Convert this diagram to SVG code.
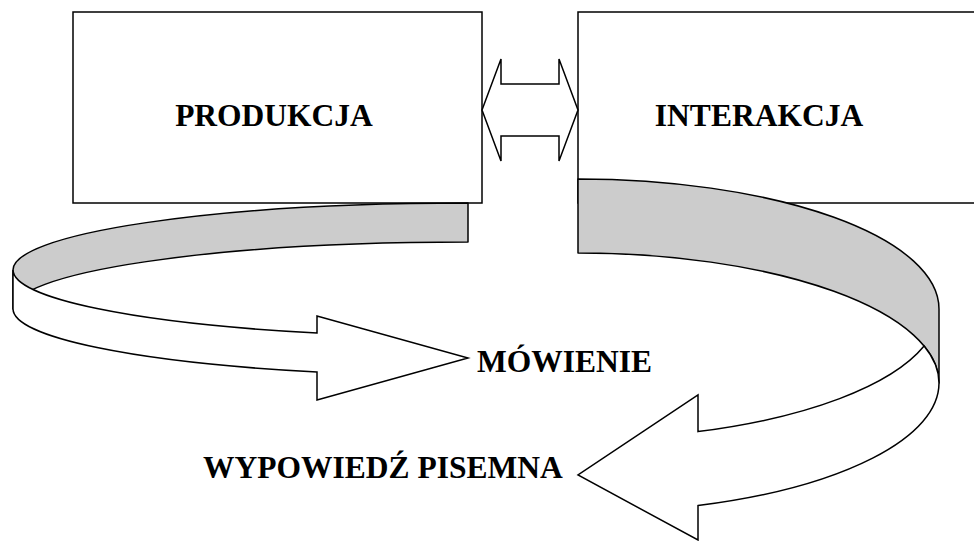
<svg xmlns="http://www.w3.org/2000/svg" width="974" height="541" viewBox="0 0 974 541">
  <style>
    .box { fill: #ffffff; stroke: #000000; stroke-width: 1.5; }
    .back { fill: #cccccc; stroke: #000000; stroke-width: 1.5; stroke-linejoin: round; }
    .front { fill: #ffffff; stroke: #000000; stroke-width: 1.5; stroke-linejoin: miter; }
    .label { font-family: "Liberation Serif", "Times New Roman", serif; font-weight: bold; font-size: 31.5px; fill: #000000; }
  </style>
  <rect width="974" height="541" fill="#ffffff"/>

  <g id="produkcja">
    <rect class="box" x="73" y="12" width="409" height="191"/>
    <text class="label" x="274" y="126" text-anchor="middle">PRODUKCJA</text>
  </g>

  <g id="interakcja">
    <rect class="box" x="578" y="12" width="430" height="191"/>
    <text class="label" x="759" y="126" text-anchor="middle">INTERAKCJA</text>
  </g>

  <g id="connectors">
    <!-- two-way block arrow between the boxes -->
    <polygon class="front" points="482,110 501,59 501,84 559,84 559,59 578,110 559,161 559,136 501,136 501,161"/>

    <!-- curved ribbon arrow from PRODUKCJA: inner (grey) side, then outer face with head -->
    <path class="back" d="M468,203 A455,67 0 0 0 13,270 L13,309 A455,67 0 0 1 468,242 Z"/>
    <path class="front" d="M13,270 A455,67 0 0 0 317,333 L317,316 L468,358 L317,400 L317,372 A455,67 0 0 1 13,309 Z"/>

    <!-- curved ribbon arrow from INTERAKCJA -->
    <path class="back" d="M578,179 A361,130 0 0 1 939,309 L939,383 A361,130 0 0 0 578,253 Z"/>
    <path class="front" d="M924.1,346 A361,130 0 0 1 698,431.6 L698,395 L578,475 L698,540 L698,505.6 A361,130 0 0 0 939,383 A361,130 0 0 0 924.1,346 Z"/>
  </g>

  <g id="mowienie">
    <text class="label" x="477" y="372">MÓWIENIE</text>
  </g>

  <g id="wypowiedz-pisemna">
    <text class="label" x="203" y="478">WYPOWIEDŹ PISEMNA</text>
  </g>
</svg>
